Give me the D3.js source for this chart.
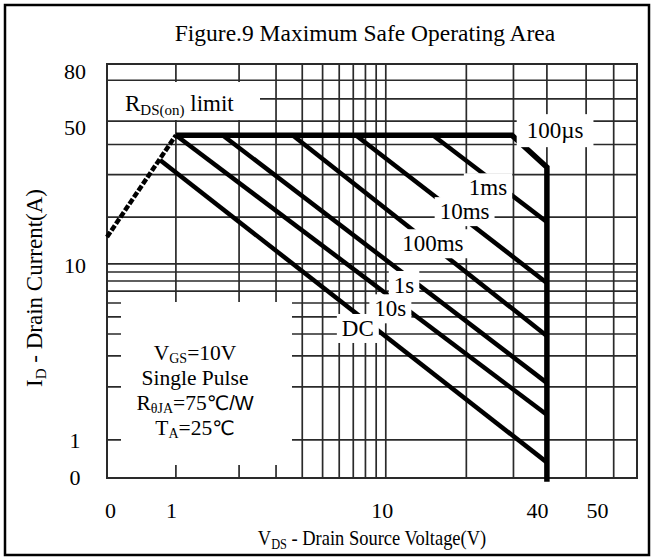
<!DOCTYPE html>
<html><head><meta charset="utf-8">
<script src="https://cdn.jsdelivr.net/npm/d3@7"></script>
<style>body{margin:0;background:#fff}svg{display:block}</style>
</head><body><svg id="c" width="654" height="560"></svg>
<script>
// ---------- data ----------
const xTickValues = [0.47, 1, 10, 40, 50];
const xTickLabels = ["0", "1", "10", "40", "50"];
const yTickValues = [0.6, 1, 10, 50, 80];
const yTickLabels = ["0", "1", "10", "50", "80"];
const xGridValues = [1, 2, 3, 4, 5, 6, 7, 8, 9, 10, 20, 30, 40, 50, 60];
const yGridValues = [1, 2, 3, 4, 5, 6, 7, 8, 9, 10, 20, 30, 40, 50, 60, 70];
const rdsLimitV = [0.47, 1];
const rdsLimitI = [14.9, 43.7];
const envelopeV = [1, 29.6, 40, 40];
const envelopeI = [43.7, 43.7, 32.2, 0.57];
const pulseNames = ["1ms", "10ms", "100ms", "1s", "10s", "DC"];
const pulseStartV = [15.0, 7.2, 3.6, 1.67, 1.0, 0.84];
const pulseStartI = [43.7, 43.7, 43.7, 43.7, 43.7, 34.5];
const pulseEndV = [40, 40, 40, 40, 40, 40];
const pulseEndI = [18.6, 7.8, 3.9, 2.11, 1.39, 0.74];
const pulseLabelV = [24.1, 19.7, 15.0, 11.7, 10.4, 7.36];
const pulseLabelI = [26.6, 21.2, 13.6, 7.6, 5.6, 4.33];
const envelopeLabel = {text: "100µs", v: 41.9, i: 45.9};

// ---------- layout ----------
const L = 107, R = 637, T = 64, B = 478;
const xBreaks = [0.47, 1, 10, 40, 50, 70];
const xFrac = [0, 0.130, 0.526, 0.830, 0.904, 1];
const yBreaks = [0.6, 1, 10, 20, 50, 80];
const yFrac = [1, 0.908, 0.483, 0.370, 0.138, 0];
const x = d3.scaleLog().domain(xBreaks).range(xFrac.map(f => L + f * (R - L)));
const y = d3.scaleLog().domain(yBreaks).range(yFrac.map(f => T + f * (B - T)));
const xLabelShift = [3, -5, -4, -10, 11];
const yLabelShift = [-1, 0, 1, 6, 7];

const SERIF = "'Liberation Serif','Times New Roman',serif";
const svg = d3.select("#c");
svg.append("rect").attr("x", 5).attr("y", 5).attr("width", 644).attr("height", 550)
  .attr("fill", "#fff").attr("stroke", "#000").attr("stroke-width", 2.5);

// title
svg.append("text").attr("x", 365).attr("y", 41).attr("text-anchor", "middle")
  .attr("font-family", SERIF).attr("font-size", 23.5).text("Figure.9 Maximum Safe Operating Area");

// grid
const grid = svg.append("g").attr("stroke", "#2a2a2a").attr("stroke-width", 1.7);
grid.selectAll("line.v").data(xGridValues).join("line").attr("class", "v")
  .attr("x1", d => x(d)).attr("x2", d => x(d)).attr("y1", T).attr("y2", B);
grid.selectAll("line.h").data(yGridValues).join("line").attr("class", "h")
  .attr("x1", L).attr("x2", R).attr("y1", d => y(d)).attr("y2", d => y(d));
svg.append("rect").attr("x", L).attr("y", T).attr("width", R - L).attr("height", B - T)
  .attr("fill", "none").attr("stroke", "#2a2a2a").attr("stroke-width", 2);

// axes (labels only)
const xa = svg.append("g").attr("transform", `translate(0,${B})`)
  .call(d3.axisBottom(x).tickValues(xTickValues).tickFormat((d, i) => xTickLabels[i]).tickSize(0));
xa.select(".domain").remove();
xa.selectAll("text").attr("y", 40).attr("dy", null).attr("dx", (d, i) => xLabelShift[i])
  .attr("font-family", SERIF).attr("font-size", 22).attr("fill", "#000");
const ya = svg.append("g").attr("transform", `translate(${L},0)`)
  .call(d3.axisLeft(y).tickValues(yTickValues).tickFormat((d, i) => yTickLabels[i]).tickSize(0));
ya.select(".domain").remove();
ya.selectAll("text").attr("x", -32).attr("y", (d, i) => yLabelShift[i]).attr("text-anchor", "middle").attr("dy", "0.35em")
  .attr("font-family", SERIF).attr("font-size", 22).attr("fill", "#000");

// axis titles
const xt = svg.append("text").attr("transform", "translate(372,545) scale(0.88,1)").attr("text-anchor", "middle")
  .attr("font-family", SERIF).attr("font-size", 21);
xt.append("tspan").text("V");
xt.append("tspan").attr("font-size", 14).attr("dy", 4).text("DS");
xt.append("tspan").attr("dy", -4).text(" - Drain Source Voltage(V)");
const yt = svg.append("text").attr("transform", "translate(42,288) rotate(-90)").attr("text-anchor", "middle")
  .attr("font-family", SERIF).attr("font-size", 23);
yt.append("tspan").text("I");
yt.append("tspan").attr("font-size", 15).attr("dy", 4).text("D");
yt.append("tspan").attr("dy", -4).text(" - Drain Current(A)");

// curves
const line = d3.line().x(d => x(d[0])).y(d => y(d[1]));
svg.append("path").datum(rdsLimitV.map((v, i) => [v, rdsLimitI[i]])).attr("d", line)
  .attr("fill", "none").attr("stroke", "#000").attr("stroke-width", 4.5).attr("stroke-dasharray", "6,2");
pulseNames.forEach((n, i) => {
  svg.append("path").datum([[pulseStartV[i], pulseStartI[i]], [pulseEndV[i], pulseEndI[i]]]).attr("d", line)
    .attr("fill", "none").attr("stroke", "#000").attr("stroke-width", 4.5);
});
svg.append("path").datum(envelopeV.map((v, i) => [v, envelopeI[i]])).attr("d", line)
  .attr("fill", "none").attr("stroke", "#000").attr("stroke-width", 5.5).attr("stroke-linejoin", "miter");

// labels with white background boxes
function boxedLabel(cx, cy, build, padX, padY) {
  const g = svg.append("g");
  const r = g.append("rect").attr("fill", "#fff");
  const t = g.append("text").attr("x", cx).attr("y", cy).attr("text-anchor", "middle").attr("dy", "0.35em")
    .attr("font-family", SERIF).attr("font-size", 23);
  build(t);
  const b = t.node().getBBox();
  r.attr("x", b.x - padX).attr("y", b.y - padY).attr("width", b.width + 2 * padX).attr("height", b.height + 2 * padY);
  return g;
}
pulseNames.forEach((n, i) => {
  boxedLabel(x(pulseLabelV[i]), y(pulseLabelI[i]), t => t.text(n), 5, 2);
});
boxedLabel(x(envelopeLabel.v), y(envelopeLabel.i), t => t.text(envelopeLabel.text), 10, 4);

// R_DS(on) limit label
svg.append("rect").attr("x", 108).attr("y", 82).attr("width", 152).attr("height", 38).attr("fill", "#fff");
const rl = svg.append("text").attr("x", 125).attr("y", 111).attr("font-family", SERIF).attr("font-size", 23);
rl.append("tspan").text("R");
rl.append("tspan").attr("font-size", 15).attr("dy", 4).text("DS(on)");
rl.append("tspan").attr("dy", -4).text(" limit");

// conditions box
svg.append("rect").attr("x", 121).attr("y", 302).attr("width", 171).attr("height", 163).attr("fill", "#fff");
const cond = [
  [["V", 0], ["GS", 1], ["=10V", 0]],
  [["Single Pulse", 0]],
  [["R", 0], ["θJA", 1], ["=75", 0], ["℃/W", 2]],
  [["T", 0], ["A", 1], ["=25", 0], ["℃", 2]]
];
cond.forEach((parts, li) => {
  const t = svg.append("text").attr("x", 195).attr("y", 360 + li * 25).attr("text-anchor", "middle")
    .attr("font-family", SERIF).attr("font-size", 21.5);
  let shifted = false;
  parts.forEach(([s, k]) => {
    const sp = t.append("tspan").text(s);
    if (k === 1) { sp.attr("font-size", 14).attr("dy", 3); shifted = true; }
    else {
      if (shifted) { sp.attr("dy", -3); shifted = false; }
      if (k === 2) sp.attr("font-family", "'Liberation Sans','DejaVu Sans',sans-serif").attr("font-size", 20);
    }
  });
});
</script></body></html>
